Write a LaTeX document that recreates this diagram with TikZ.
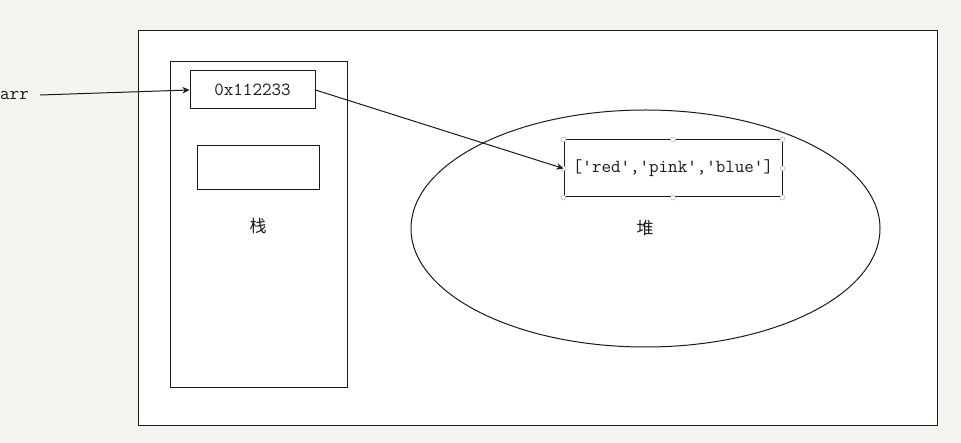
\documentclass[tikz,border=0pt]{standalone}
\usepackage{fontspec}
\newfontfamily\cjk{Noto Sans CJK SC}
\usetikzlibrary{positioning,shapes.geometric,arrows.meta}
\definecolor{paper}{HTML}{F6F4EF}
\definecolor{ink}{HTML}{1A1A1A}

\begin{document}
\begin{tikzpicture} [
x=1pt, y=-1pt,
box/.style={rectangle, draw=ink, line width=1pt, fill=white, inner sep=0pt},
txt/.style={font=\fontsize{18.5}{21}\selectfont\ttfamily, text=ink},
han/.style={font=\fontsize{17}{20}\selectfont\cjk, text=ink},
arrow/.style={-{Stealth[length=7pt,width=6.5pt]}, line width=1pt, draw=ink},
grip/.style={draw=gray!70, fill=white, line width=0.4pt},
]
\useasboundingbox[fill=paper] (0,0) rectangle (961,443);

%Nodes
\node[box, minimum width=799pt, minimum height=394pt]          (frame)  at (537.5,228)   {};
\node[box, minimum width=177pt, minimum height=326pt]          (stack)  at (258.5,225)   {};
\node[box, txt, minimum width=125pt, minimum height=38pt]      (addr)   at (252.5,90)    {0x112233};
\node[box, minimum width=122pt, minimum height=44pt]           (slot)   at (258,168)     {};
\node[han]                                                     (zhan)   at (258,226)     {栈};
\node[ellipse, draw=ink, line width=1pt,
      minimum width=469pt, minimum height=237pt]               (heap)   at (645.5,228.5) {};
\node[box, txt, minimum width=218pt, minimum height=57pt]      (list)   at (673,168.5)   {['red','pink','blue']};
\node[han]                                                     (dui)    at (645,228)     {堆};
\node[txt, anchor=west, inner sep=0pt]                         (arr)    at (0,95)        {arr};

%Handles
\foreach \a in {north west, north, north east, east, south east, south, south west, west}
  \draw[grip] (list.\a) circle (2.5pt);

%Lines
\draw[arrow] ([xshift=11pt]arr.east) -- (addr.west);
\draw[arrow] (addr.east) -- (list.west);

\end{tikzpicture}
\end{document}
